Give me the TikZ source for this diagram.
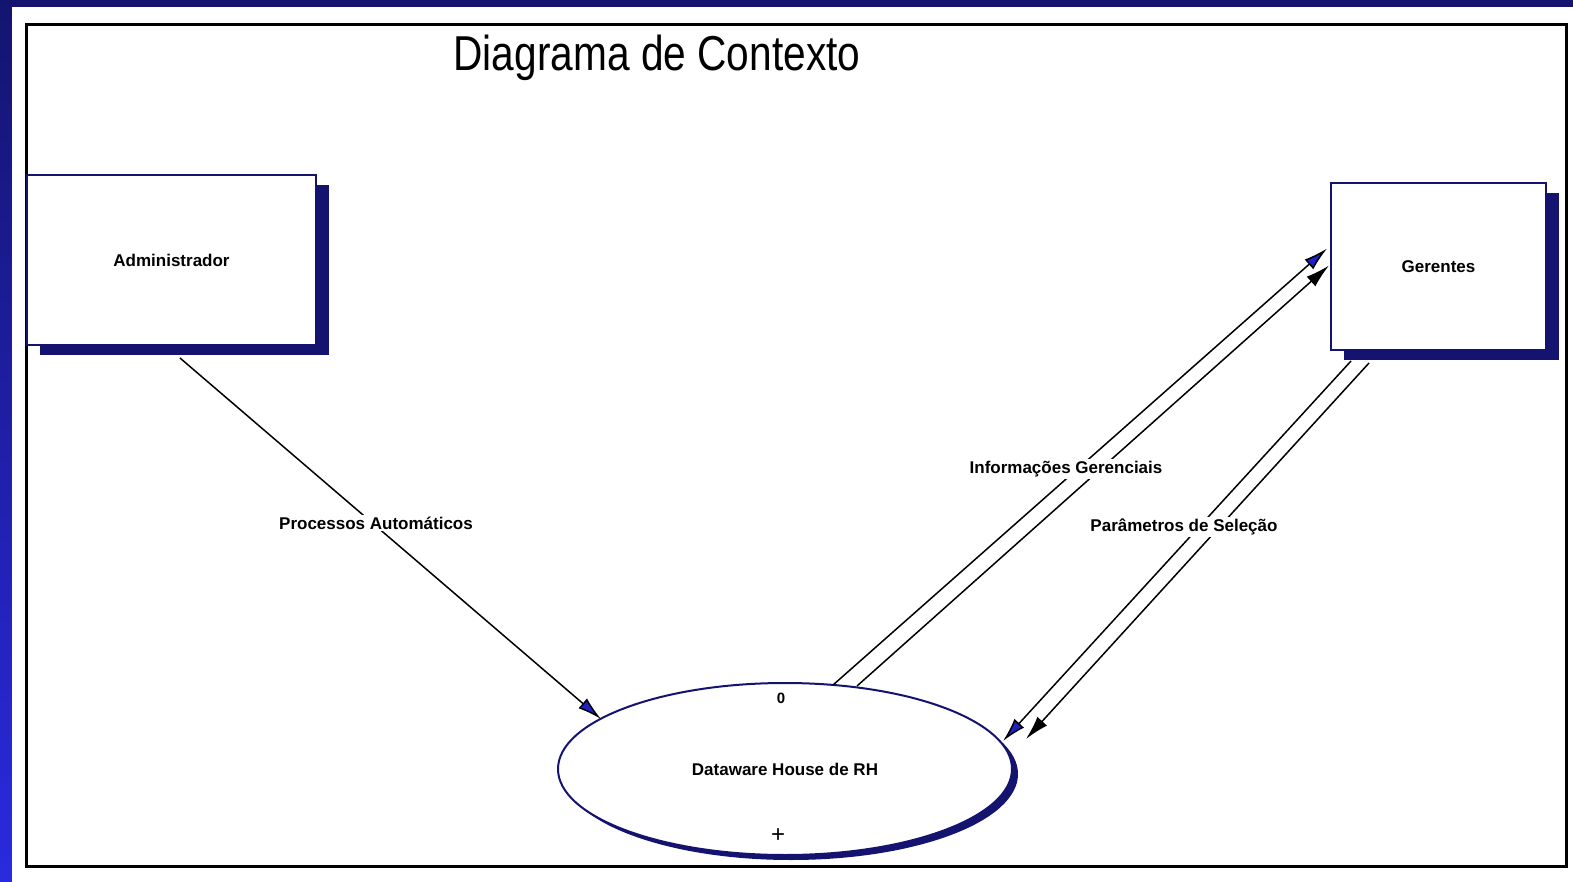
\documentclass[tikz,border=0pt]{standalone}
\usepackage{fontspec}
\setmainfont{Liberation Sans}
\usetikzlibrary{arrows.meta,shadows,calc,shapes.geometric}
\definecolor{navy}{HTML}{141470}
\definecolor{barblue}{HTML}{2A2AE0}
\definecolor{headblue}{HTML}{2020C8}
\tikzset{
  entity/.style={draw=navy, line width=2pt, fill=white, rectangle,
    font=\fontsize{17}{20}\selectfont\bfseries,
    drop shadow={shadow xshift=13pt, shadow yshift=-10pt, fill=navy, opacity=1}},
  proc/.style={draw=navy, line width=2pt, fill=white, ellipse,
    minimum width=454pt, minimum height=172pt, inner sep=0pt,
    font=\fontsize{17}{20}\selectfont\bfseries,
    drop shadow={shadow xshift=6pt, shadow yshift=-5pt, fill=navy, opacity=1}},
  lbl/.style={fill=white, inner sep=2pt, font=\fontsize{17}{20}\selectfont\bfseries},
  flowblue/.style={draw=black, line width=1.5pt, -{Latex[length=24pt,width=13pt,fill=headblue]}},
  flowblack/.style={draw=black, line width=1.5pt, -{Latex[length=24pt,width=13pt,fill=black]}},
}
\begin{document}
\begin{tikzpicture}[x=1pt,y=-1pt]
\useasboundingbox (0,0) rectangle (1573,882);
% background
\fill[navy] (0,0) rectangle (1573,882);
\shade[top color=navy, bottom color=barblue] (0,0) rectangle (12,882);
\fill[white] (12,7) rectangle (1573,882);
\draw[line width=3pt] (26,25) rectangle (1566,866);
% title
\node (title) at (657,58) {\scalebox{0.83}[1]{\fontsize{49}{55}\selectfont Diagrama de Contexto}};
% entities
\node[entity, minimum width=289pt, minimum height=170pt] (adm) at (171.5,260) {Administrador};
\node[entity, minimum width=215pt, minimum height=167pt] (ger) at (1438.5,266.5) {Gerentes};
% process
\node[proc] (dw) at (785,769) {Dataware House de RH};
\node[font=\fontsize{15}{18}\selectfont\bfseries] (num) at (781,698) {0};
\node[font=\fontsize{24}{26}\selectfont] (plus) at (778,836) {+};
% endpoints
\coordinate (a1) at ($(adm.south)+(8.5,12)$);
\coordinate (a2) at ($(dw.center)+(-184,-50)$);
\coordinate (b1) at ($(dw.center)+(48,-84)$);
\coordinate (b2) at ($(ger.west)+(-3,-18)$);
\coordinate (c1) at ($(dw.center)+(72,-83)$);
\coordinate (c2) at ($(ger.west)+(-1,-1)$);
\coordinate (d1) at ($(ger.south west)+(21,10)$);
\coordinate (d2) at ($(dw.center)+(218,-28)$);
\coordinate (e1) at ($(ger.south west)+(39,12)$);
\coordinate (e2) at ($(dw.center)+(241,-30)$);
% flows
\draw[flowblue] (a1) -- (a2);
\draw[flowblue] (b1) -- (b2);
\draw[flowblack] (c1) -- (c2);
\draw[flowblue] (d1) -- (d2);
\draw[flowblack] (e1) -- (e2);
% labels
\node[lbl] (l1) at (376,523) {Processos Automáticos};
\node[lbl] (l2) at (1066,469) {Informações Gerenciais};
\node[lbl] (l3) at (1184,527) {Parâmetros de Seleção};
\end{tikzpicture}
\end{document}
